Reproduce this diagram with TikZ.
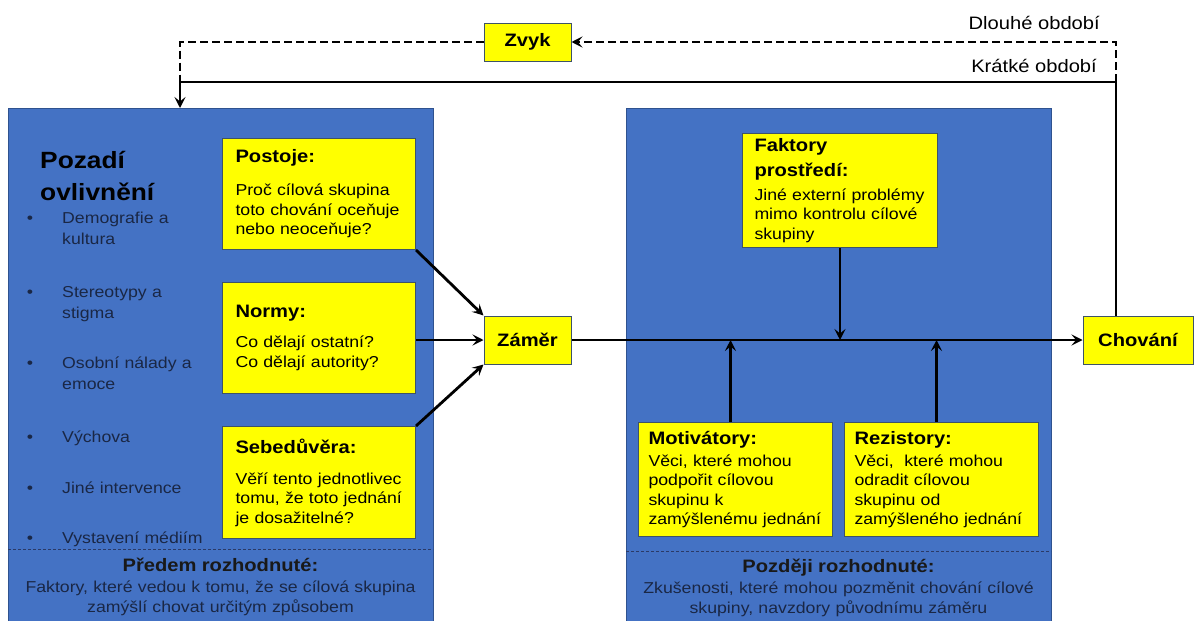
\documentclass[tikz,border=0pt]{standalone}
\usepackage{fontspec}
\setmainfont{Liberation Sans}[FakeStretch=1.12]
\usetikzlibrary{arrows.meta,positioning}

\definecolor{panelblue}{HTML}{4472C4}
\definecolor{paneledge}{HTML}{2F528F}
\definecolor{boxyellow}{HTML}{FFFF00}
\definecolor{boxedge}{HTML}{3E5366}
\definecolor{inkblue}{HTML}{1A2745}
\definecolor{sepline}{HTML}{2B3A67}

\newcommand{\boxhead}[1]{{\bfseries\fontsize{18}{19.5}\selectfont #1}}

\begin{document}
\begin{tikzpicture}[x=1pt,y=-1pt,
    panel/.style={draw=paneledge, line width=0.8pt, fill=panelblue, anchor=north west,
      minimum width=425, minimum height=520, inner sep=0},
    factor/.style={draw=boxedge, line width=1pt, fill=boxyellow, anchor=north west,
      align=left, inner xsep=13, inner ysep=0, text width=167, minimum height=111,
      font=\fontsize{15.8}{19.5}\selectfont},
    keybox/.style={draw=boxedge, line width=1pt, fill=boxyellow, inner sep=0,
      font=\bfseries\fontsize{18}{20}\selectfont},
    item/.style={anchor=base west, inner sep=0, text width=165, align=left, text=inkblue,
      font=\fontsize{15.8}{21}\selectfont},
    dot/.style={anchor=base, inner sep=0, text=inkblue, font=\fontsize{16}{16}\selectfont},
    footer/.style={anchor=base, inner sep=0, text width=420, align=center, text=inkblue,
      font=\fontsize{15.8}{20}\selectfont},
    note/.style={anchor=base east, inner sep=0, font=\fontsize{18}{20}\selectfont},
    sep/.style={draw=sepline, line width=0.8pt, dash pattern=on 3pt off 2pt},
    link/.style={line width=2.8pt},
    flow/.style={link, -{Stealth[length=11pt,width=11pt,inset=4.5pt]}},
    habit/.style={link, dash pattern=on 8pt off 4pt}]
  \useasboundingbox (0,0) rectangle (1195,621);

  % panels
  \node[panel] (before) at (8,108) {};
  \node[panel] (after) at (626,108) {};
  \draw[sep] (8,549) -- (433,549);
  \draw[sep] (626,551) -- (1051,551);

  % left panel
  \node[anchor=base west, inner sep=0, text width=190, align=left,
    font=\bfseries\fontsize{23.5}{32}\selectfont] (title) at (40,168) {Pozadí\\ovlivnění};
  \foreach \y/\t [count=\n] in {223/{Demografie a\\kultura}, 297/{Stereotypy a\\stigma},
      368/{Osobní nálady a\\emoce}, 442/Výchova, 493/{Jiné intervence}, 543/{Vystavení médiím}}
  {
    \node[dot] (d\n) at (30,\y) {•};
    \node[item] (i\n) at (62,\y) {\t};
  }
  \node[factor] (postoje) at (222,138) {\boxhead{Postoje:}\\[13.5pt]
    Proč cílová skupina\\toto chování oceňuje\\nebo neoceňuje?};
  \node[factor] (normy) at (222,282) {\boxhead{Normy:}\\[10.5pt]
    Co dělají ostatní?\\Co dělají autority?};
  \node[factor, minimum height=112] (sebe) at (222,426) {\boxhead{Sebedůvěra:}\\[11.5pt]
    Věří tento jednotlivec\\tomu, že toto jednání\\je dosažitelné?};
  \node[footer] (pre) at (220.5,571) {{\color{black!90}\boxhead{Předem rozhodnuté:}}\\[1.5pt]
    Faktory, které vedou k tomu, že se cílová skupina\\zamýšlí chovat určitým způsobem};

  % right panel
  \node[factor, inner xsep=12, text width=171, minimum height=114] (prostredi) at (742,133)
    {\boxhead{Faktory}\\[5.5pt]\boxhead{prostředí:}\\[4.5pt]
    Jiné externí problémy\\mimo kontrolu cílové\\skupiny};
  \node[factor, inner xsep=10, text width=174, minimum height=114] (motiv) at (638,422)
    {\boxhead{Motivátory:}\\[2.5pt]
    Věci, které mohou\\podpořit cílovou\\skupinu k\\zamýšlenému jednání};
  \node[factor, inner xsep=10, text width=174, minimum height=114] (rezist) at (844,422)
    {\boxhead{Rezistory:}\\[2.5pt]
    Věci, \ které mohou\\odradit cílovou\\skupinu od\\zamýšleného jednání};
  \node[footer] (post) at (838.5,572) {{\color{black!90}\boxhead{Později rozhodnuté:}}\\[1.5pt]
    Zkušenosti, které mohou pozměnit chování cílové\\skupiny, navzdory původnímu záměru};

  % key boxes
  \node[keybox, minimum width=87, minimum height=48] (zamer) at (527.5,340) {Záměr};
  \node[keybox, minimum width=110, minimum height=48] (chovani) at (1138,340) {Chování};
  \node[keybox, minimum width=87, minimum height=38] (zvyk) at (527.5,42) {Zvyk};

  \node[note] (long) at (1100,29) {Dlouhé období};
  \node[note] (short) at (1097,72) {Krátké období};

  % arrows
  \draw[flow] (postoje.south east) -- (zamer.north west);
  \draw[flow] (normy.east |- zamer.west) -- (zamer.west);
  \draw[flow] (sebe.north east) -- (zamer.south west);
  \draw[flow] (zamer.east) -- (chovani.west);
  \draw[flow] (prostredi.south) -- (prostredi.south |- zamer.east);
  \coordinate (mup) at ([xshift=-5]motiv.north);
  \coordinate (rup) at ([xshift=-5]rezist.north);
  \draw[flow] (mup) -- (mup |- zamer.east);
  \draw[flow] (rup) -- (rup |- zamer.east);

  % feedback
  \coordinate (split) at (1116,82);
  \coordinate (back) at (180,82);
  \draw[link] (chovani.north -| split) -- (split) -- (back);
  \draw[flow] (back) -- (back |- before.north);
  \draw[habit, -{Stealth[length=11pt,width=11pt,inset=4.5pt]}] (split) |- (zvyk.east);
  \draw[habit] (zvyk.west) -| (back);
\end{tikzpicture}
\end{document}
